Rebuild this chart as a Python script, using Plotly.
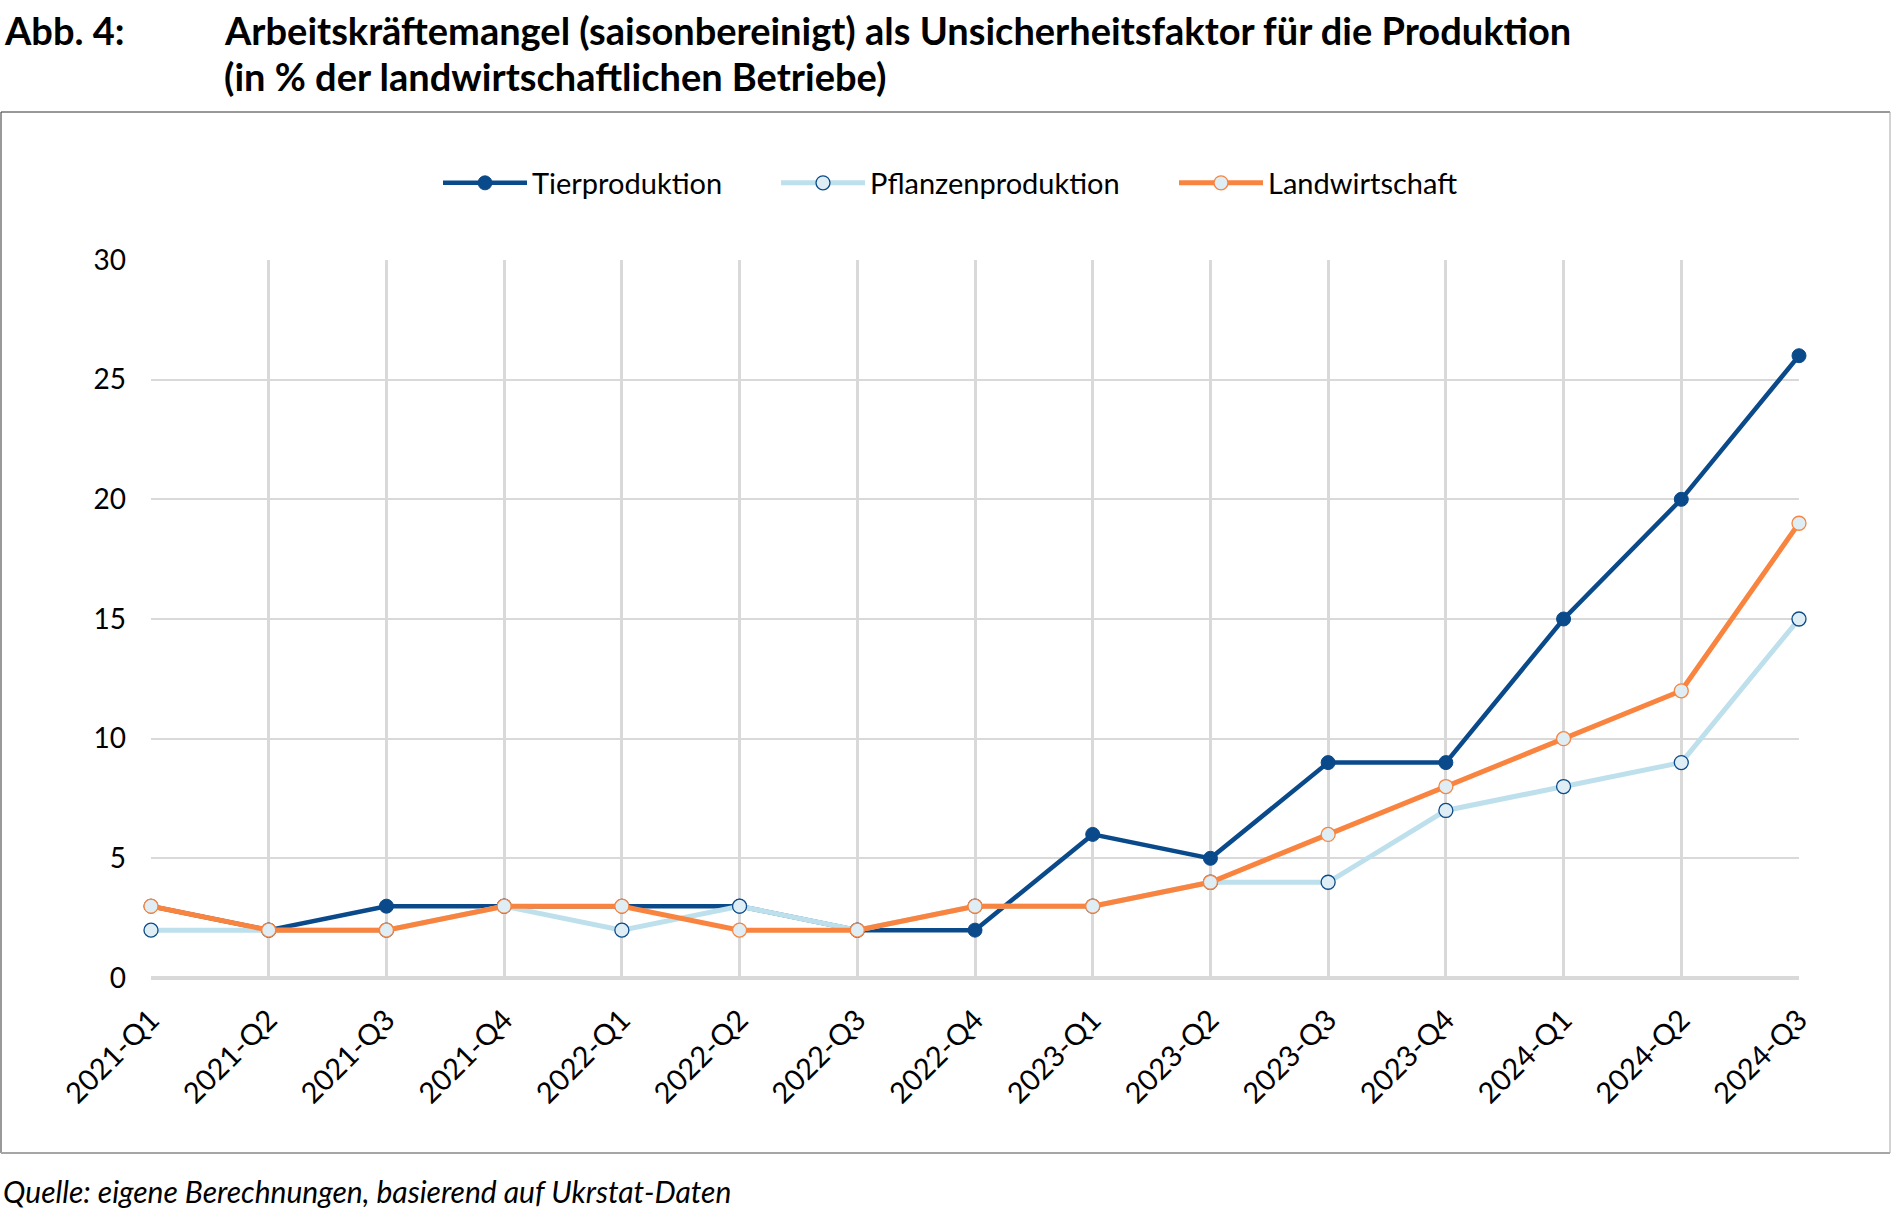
import plotly.graph_objects as go

quarters = ["2021-Q1", "2021-Q2", "2021-Q3", "2021-Q4", "2022-Q1", "2022-Q2", "2022-Q3",
            "2022-Q4", "2023-Q1", "2023-Q2", "2023-Q3", "2023-Q4", "2024-Q1", "2024-Q2", "2024-Q3"]
tierproduktion = [3, 2, 3, 3, 3, 3, 2, 2, 6, 5, 9, 9, 15, 20, 26]
pflanzenproduktion = [2, 2, 2, 3, 2, 3, 2, 3, 3, 4, 4, 7, 8, 9, 15]
landwirtschaft = [3, 2, 2, 3, 3, 2, 2, 3, 3, 4, 6, 8, 10, 12, 19]
y_ticks = [0, 5, 10, 15, 20, 25, 30]

W, H = 1893, 1213
L, R, T, B = 151, 1799, 260, 978
PW, PH = R - L, B - T

def px(x):
    return (x - L) / PW

def py(y):
    return (B - y) / PH

DARK = "#0a4a8a"
LIGHT = "#bde0ec"
ORANGE = "#f8843f"
FILL = "#dfeef5"

fig = go.Figure()
fig.add_trace(go.Scatter(
    x=quarters, y=tierproduktion, name="Tierproduktion", mode="lines+markers",
    line=dict(color=DARK, width=4.5),
    marker=dict(size=14, color=DARK, line=dict(color=DARK, width=1)),
    cliponaxis=False, legend="legend"))
fig.add_trace(go.Scatter(
    x=quarters, y=pflanzenproduktion, name="Pflanzenproduktion", mode="lines+markers",
    line=dict(color=LIGHT, width=5),
    marker=dict(size=14, color=FILL, line=dict(color=DARK, width=1.3)),
    cliponaxis=False, legend="legend2"))
fig.add_trace(go.Scatter(
    x=quarters, y=landwirtschaft, name="Landwirtschaft", mode="lines+markers",
    line=dict(color=ORANGE, width=5),
    marker=dict(size=14, color=FILL, line=dict(color=ORANGE, width=1.3)),
    cliponaxis=False, legend="legend3"))

shapes = []
x0, x1 = px(1), px(1890)
y0, y1 = py(1153), py(112)
shapes.append(dict(type="line", xref="paper", yref="paper", x0=x0, x1=x1, y0=y1, y1=y1,
                   line=dict(color="#333333", width=1)))
shapes.append(dict(type="line", xref="paper", yref="paper", x0=x0, x1=x0, y0=y0, y1=y1,
                   line=dict(color="#333333", width=1)))
shapes.append(dict(type="line", xref="paper", yref="paper", x0=x0, x1=x1, y0=y0, y1=y0,
                   line=dict(color="#a6a6a6", width=2)))
shapes.append(dict(type="line", xref="paper", yref="paper", x0=x1, x1=x1, y0=y0, y1=y1,
                   line=dict(color="#a6a6a6", width=1)))

TF = 38
annotations = [
    dict(text="<b>Abb. 4:</b>", xref="paper", yref="paper", x=px(2), y=py(30),
         xanchor="left", yanchor="middle", showarrow=False,
         font=dict(family="Lato", size=TF, color="#000000")),
    dict(text="<b>Arbeitskräftemangel (saisonbereinigt) als Unsicherheitsfaktor für die Produktion</b>",
         xref="paper", yref="paper", x=px(222), y=py(30),
         xanchor="left", yanchor="middle", showarrow=False,
         font=dict(family="Lato", size=TF, color="#000000")),
    dict(text="<b>(in % der landwirtschaftlichen Betriebe)</b>",
         xref="paper", yref="paper", x=px(222), y=py(76),
         xanchor="left", yanchor="middle", showarrow=False,
         font=dict(family="Lato", size=TF, color="#000000")),
    dict(text="<i>Quelle: eigene Berechnungen, basierend auf Ukrstat-Daten</i>",
         xref="paper", yref="paper", x=px(1), y=py(1191),
         xanchor="left", yanchor="middle", showarrow=False,
         font=dict(family="Lato", size=30, color="#000000")),
]

legend_common = dict(orientation="h", yanchor="middle", xanchor="left",
                     font=dict(family="Lato", size=29, color="#000000"),
                     itemwidth=84, bgcolor="rgba(0,0,0,0)")

fig.update_layout(
    width=W, height=H,
    margin=dict(l=L, r=W - R, t=T, b=H - B),
    paper_bgcolor="white", plot_bgcolor="white",
    font=dict(family="Lato", size=28, color="#000000"),
    showlegend=True,
    legend=dict(x=px(443 - 5), y=py(183), **legend_common),
    legend2=dict(x=px(781 - 5), y=py(183), **legend_common),
    legend3=dict(x=px(1179 - 5), y=py(183), **legend_common),
    shapes=shapes,
    annotations=annotations,
    xaxis=dict(type="category", range=[0, 14], showgrid=True, gridcolor="#d9d9d9", gridwidth=3,
               tickangle=-45, showline=False, zeroline=False, ticks="",
               ticklabelstandoff=18,
               tickfont=dict(family="Lato", size=29, color="#000000")),
    yaxis=dict(range=[0, 30], tickvals=y_ticks, showgrid=True, gridcolor="#d9d9d9", gridwidth=1.5,
               zeroline=True, zerolinecolor="#d9d9d9", zerolinewidth=4, showline=False,
               ticks="", ticklabelstandoff=24,
               tickfont=dict(family="Lato", size=28, color="#000000")),
)

fig.write_html("out.html")
